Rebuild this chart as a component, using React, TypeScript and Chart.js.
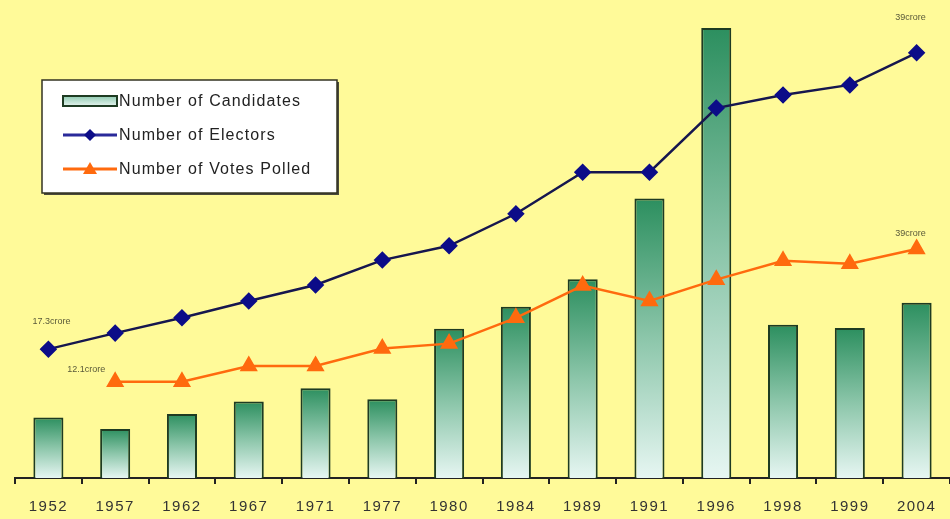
import React, { useEffect, useRef } from 'react';
import { Chart, registerables } from 'chart.js';

Chart.register(...registerables);

const categories = ['1952', '1957', '1962', '1967', '1971', '1977', '1980', '1984', '1989', '1991', '1996', '1998', '1999', '2004'];
const candidates = [1874, 1519, 1985, 2369, 2784, 2439, 4629, 5312, 6160, 8668, 13952, 4750, 4648, 5435];
const electors = [17.3, 20.0, 22.6, 25.4, 28.1, 32.3, 34.7, 40.1, 47.1, 47.1, 57.9, 60.1, 61.8, 67.2];
const votesPolled = [null, 12.1, 12.1, 15.3, 15.3, 18.8, 19.8, 25.0, 31.5, 28.4, 32.7, 36.5, 35.9, 38.9];
const legendLabels = ['Number of Candidates', 'Number of Electors', 'Number of Votes Polled'];
const pointNotes = [
  { series: 0, index: 0, text: '17.3crore', dx: 3, dy: -28 },
  { series: 1, index: 1, text: '12.1crore', dx: -29, dy: -12 },
  { series: 0, index: 13, text: '39crore', dx: -6, dy: -35 },
  { series: 1, index: 13, text: '39crore', dx: -6, dy: -15 },
];

const BG = '#FFFA99';
const NAVY_LINE = '#16164e';
const NAVY_PT = '#0c0c88';
const ORANGE = '#ff6a0e';
const FONT = '"Liberation Sans", Arial, sans-serif';

const bgPlugin = {
  id: 'bgFill',
  beforeDraw(chart: any) {
    const c = chart.ctx;
    c.save();
    c.fillStyle = BG;
    c.fillRect(0, 0, chart.width, chart.height);
    c.restore();
    c.letterSpacing = '1.5px';
  },
  afterDraw(chart: any) {
    chart.ctx.letterSpacing = '0px';
  },
};

const notesPlugin = {
  id: 'notes',
  afterDatasetsDraw(chart: any) {
    const c = chart.ctx;
    c.save();
    c.letterSpacing = '0px';
    c.font = '9px ' + FONT;
    c.fillStyle = '#5a5a3a';
    c.textAlign = 'center';
    c.textBaseline = 'middle';
    pointNotes.forEach((n) => {
      const el = chart.getDatasetMeta(n.series).data[n.index];
      if (!el) return;
      c.fillText(n.text, el.x + n.dx, el.y + n.dy);
    });
    c.restore();
  },
};

const legendPlugin = {
  id: 'boxLegend',
  afterDraw(chart: any) {
    const c = chart.ctx;
    const x = 42, y = 80, w = 295, h = 113;
    c.save();
    c.letterSpacing = '0px';
    c.fillStyle = '#4a4a3a';
    c.fillRect(x + 2, y + 2, w, h);
    c.fillStyle = '#ffffff';
    c.fillRect(x, y, w, h);
    c.strokeStyle = '#333322';
    c.lineWidth = 1.5;
    c.strokeRect(x, y, w, h);

    const sx = 63, ex = 117, tx = 119;
    const rows = [101, 135, 169];
    const g = c.createLinearGradient(0, rows[0] - 5, 0, rows[0] + 5);
    g.addColorStop(0, '#8fcab0');
    g.addColorStop(1, '#e4f4ee');
    c.fillStyle = g;
    c.fillRect(sx, rows[0] - 5, ex - sx, 10);
    c.strokeStyle = '#1e3b22';
    c.lineWidth = 2;
    c.strokeRect(sx, rows[0] - 5, ex - sx, 10);
    c.strokeStyle = '#2a2a9a';
    c.lineWidth = 3;
    c.beginPath();
    c.moveTo(sx, rows[1]);
    c.lineTo(ex, rows[1]);
    c.stroke();
    c.fillStyle = NAVY_PT;
    const mx = (sx + ex) / 2;
    c.beginPath();
    c.moveTo(mx, rows[1] - 6);
    c.lineTo(mx + 6, rows[1]);
    c.lineTo(mx, rows[1] + 6);
    c.lineTo(mx - 6, rows[1]);
    c.closePath();
    c.fill();
    c.strokeStyle = ORANGE;
    c.beginPath();
    c.moveTo(sx, rows[2]);
    c.lineTo(ex, rows[2]);
    c.stroke();
    c.fillStyle = ORANGE;
    c.beginPath();
    c.moveTo(mx, rows[2] - 7);
    c.lineTo(mx + 7, rows[2] + 5);
    c.lineTo(mx - 7, rows[2] + 5);
    c.closePath();
    c.fill();

    c.letterSpacing = '1.1px';
    c.font = '16px ' + FONT;
    c.fillStyle = '#222222';
    c.textAlign = 'left';
    c.textBaseline = 'middle';
    legendLabels.forEach((t, i) => c.fillText(t, tx, rows[i] + 1));
    c.restore();
  },
};

export default function App() {
  const ref = useRef<HTMLCanvasElement | null>(null);

  useEffect(() => {
    if (!ref.current) return;
    const chart = new Chart(ref.current, {
      type: 'bar',
      data: {
        labels: categories,
        datasets: [
          {
            type: 'line',
            label: legendLabels[1],
            data: electors,
            yAxisID: 'yE',
            borderColor: NAVY_LINE,
            borderWidth: 2.5,
            pointStyle: 'rectRot',
            pointRadius: 7,
            pointBackgroundColor: NAVY_PT,
            pointBorderColor: NAVY_PT,
            tension: 0,
            order: 1,
          } as any,
          {
            type: 'line',
            label: legendLabels[2],
            data: votesPolled,
            yAxisID: 'yV',
            borderColor: ORANGE,
            borderWidth: 2.5,
            pointStyle: 'triangle',
            pointRadius: 8,
            pointBackgroundColor: ORANGE,
            pointBorderColor: ORANGE,
            tension: 0,
            order: 2,
          } as any,
          {
            type: 'bar',
            label: legendLabels[0],
            data: candidates,
            yAxisID: 'y',
            backgroundColor: (ctx: any) => {
              const ch = ctx.chart;
              const area = ch.chartArea;
              if (!area || ctx.raw == null) return '#6ab592';
              const top = ch.scales.y.getPixelForValue(ctx.raw);
              const g = ch.ctx.createLinearGradient(0, top, 0, area.bottom);
              g.addColorStop(0, '#2c8f5f');
              g.addColorStop(0.5, '#8cc6aa');
              g.addColorStop(1, '#e6f6f2');
              return g;
            },
            borderColor: '#1e3b22',
            borderWidth: 2,
            borderSkipped: 'bottom',
            barPercentage: 0.45,
            categoryPercentage: 1,
            order: 3,
          } as any,
        ],
      },
      options: {
        responsive: false,
        animation: false,
        devicePixelRatio: 1,
        layout: { autoPadding: false, padding: { left: 15, right: 0, top: 0, bottom: 0 } },
        plugins: {
          legend: { display: false },
          tooltip: { enabled: false },
        },
        scales: {
          x: {
            offset: true,
            grid: {
              display: true,
              offset: true,
              drawOnChartArea: false,
              drawTicks: true,
              tickLength: 6,
              color: '#222222',
              lineWidth: 2,
            },
            border: { display: true, color: '#222222', width: 2 },
            ticks: {
              color: '#333333',
              font: { family: FONT, size: 15 },
              padding: 14,
              maxRotation: 0,
              autoSkip: false,
            },
            afterFit: (scale: any) => {
              scale.height = 41;
            },
          },
          y: { display: false, min: 0, max: 14820 },
          yE: { display: false, min: -4.4, max: 76.1 },
          yV: { display: false, min: -7.3, max: 89.1 },
        },
      } as any,
      plugins: [bgPlugin, notesPlugin, legendPlugin],
    });
    return () => chart.destroy();
  }, []);

  return (
    <div style={{ position: 'absolute', left: 0, top: 0, width: 950, height: 519 }}>
      <canvas ref={ref} width={950} height={519} style={{ display: 'block' }} />
    </div>
  );
}
